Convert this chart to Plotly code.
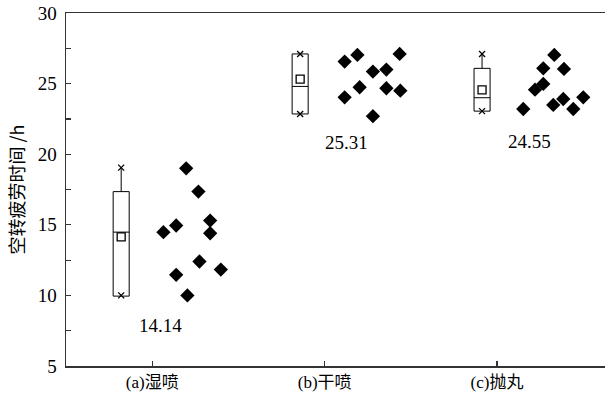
import plotly.graph_objects as go

# ---- data ----
categories = ["(a)湿喷", "(b)干喷", "(c)抛丸"]
cat_pos = [0, 1, 2]

vals_a = [19.0, 17.35, 14.95, 14.48, 15.3, 14.4, 12.4, 11.83, 11.46, 10.0]
vals_b = [26.56, 27.03, 27.1, 25.85, 25.99, 24.74, 24.03, 24.67, 24.5, 22.69]
vals_c = [27.03, 26.08, 26.04, 24.98, 24.57, 23.2, 23.49, 23.91, 23.2, 24.03]

jit_a = [0.197, 0.268, 0.139, 0.065, 0.336, 0.336, 0.274, 0.398, 0.139, 0.204]
jit_b = [0.116, 0.19, 0.435, 0.28, 0.358, 0.203, 0.116, 0.358, 0.439, 0.28]
jit_c = [0.332, 0.268, 0.388, 0.268, 0.22, 0.152, 0.326, 0.384, 0.442, 0.5]

box_offset = [-0.18, -0.142, -0.087]
q1 = [9.95, 22.85, 23.05]
median = [14.48, 24.8, 24.0]
q3 = [17.35, 27.1, 26.08]
lowerfence = [10.0, 22.85, 23.05]
upperfence = [19.05, 27.1, 27.1]
means = [14.14, 25.31, 24.55]
mean_labels = ["14.14", "25.31", "24.55"]
label_dx = [0.046, 0.128, 0.186]
label_y = [7.9, 20.8, 20.9]

serif = "Liberation Serif, Noto Sans CJK SC"

fig = go.Figure()

for i in range(3):
    bx = cat_pos[i] + box_offset[i]
    fig.add_trace(go.Box(
        x=[bx], q1=[q1[i]], median=[median[i]], q3=[q3[i]],
        lowerfence=[lowerfence[i]], upperfence=[upperfence[i]],
        width=0.093, whiskerwidth=0, fillcolor="white",
        line=dict(color="black", width=1), boxpoints=False,
        showlegend=False, hoverinfo="skip"))
    fig.add_trace(go.Scatter(
        x=[bx], y=[means[i]], mode="markers",
        marker=dict(symbol="square-open", size=8, color="black", line=dict(width=1.3)),
        showlegend=False))
    fig.add_trace(go.Scatter(
        x=[bx, bx], y=[lowerfence[i], upperfence[i]], mode="markers",
        marker=dict(symbol="x-thin-open", size=6, color="black", line=dict(width=1.3, color="black")),
        showlegend=False))

for i, (vals, jit) in enumerate([(vals_a, jit_a), (vals_b, jit_b), (vals_c, jit_c)]):
    fig.add_trace(go.Scatter(
        x=[cat_pos[i] + j for j in jit], y=vals, mode="markers",
        marker=dict(symbol="diamond", size=11, color="black"),
        showlegend=False))
    fig.add_annotation(x=cat_pos[i] + label_dx[i], y=label_y[i], text=mean_labels[i],
                       showarrow=False, font=dict(family=serif, size=19, color="black"))

fig.update_layout(
    width=605, height=405,
    margin=dict(l=66, r=0, t=13, b=39, autoexpand=False),
    paper_bgcolor="white", plot_bgcolor="white",
    font=dict(family=serif, color="black"),
)
fig.update_xaxes(
    range=[-0.5, 2.626], tickvals=cat_pos, ticktext=categories, automargin=False,
    ticks="inside", ticklen=5, tickcolor="#333", tickwidth=1.2,
    showline=True, linecolor="#333", linewidth=1.5, mirror=True,
    showgrid=False, zeroline=False, tickfont=dict(family=serif, size=17, color="black"),
)
fig.update_yaxes(
    range=[5, 30], tickvals=[5, 10, 15, 20, 25, 30], automargin=False,
    ticklabeloverflow="allow",
    ticks="inside", ticklen=5, tickcolor="#333", tickwidth=1.2,
    minor=dict(ticks="inside", ticklen=5, tickvals=[7.5, 12.5, 17.5, 22.5, 27.5], tickcolor="#333"),
    showline=True, linecolor="#333", linewidth=1.5,
    showgrid=False, zeroline=False, tickfont=dict(family=serif, size=19, color="black"),
    ticklabelstandoff=4,
    title=dict(text="空转疲劳时间 /h", font=dict(family="Noto Sans CJK SC", size=18, color="black"), standoff=8),
)

fig.write_html("out.html", config={"displayModeBar": False, "staticPlot": True},
               post_script="document.body.style.margin='0px';document.body.style.overflow='hidden';")
